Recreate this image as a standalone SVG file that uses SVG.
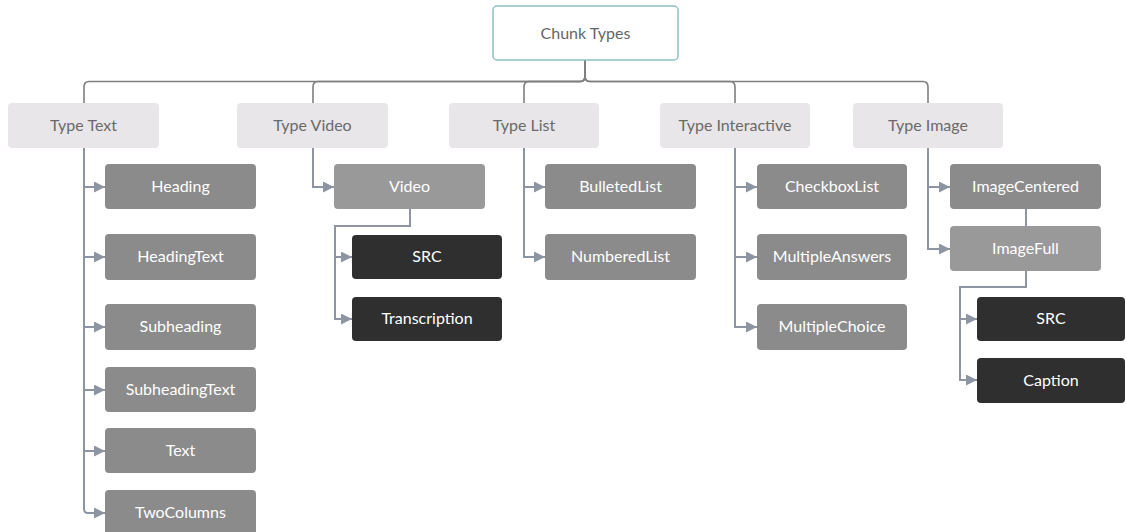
<svg xmlns="http://www.w3.org/2000/svg" width="1126" height="532" viewBox="0 0 1126 532">
  <defs>
    <marker id="arrow" viewBox="0 0 11 11" refX="11" refY="5.5" markerWidth="11" markerHeight="11" markerUnits="userSpaceOnUse" orient="auto">
      <path d="M0,0 L11,5.5 L0,11 z" fill="#8d95a3"/>
    </marker>
    <style>
      .bus { fill: none; stroke: #7f7f7f; stroke-width: 1.6; }
      .link { fill: none; stroke: #8d95a3; stroke-width: 2; }
      .arr { marker-end: url(#arrow); }
      .root rect { fill: #ffffff; stroke: #8fc0c5; stroke-width: 1.5; }
      .root text { fill: #666666; }
      .type rect { fill: #e8e6e8; }
      .type text { fill: #6a6a6a; }
      .leaf rect { fill: #8b8b8b; }
      .leaf.lite rect { fill: #999999; }
      .leaf text { fill: #ffffff; }
      .prop rect { fill: #2f2f2f; }
      .prop text { fill: #ffffff; }
      text { font-family: Lato, "Liberation Sans", sans-serif; font-size: 16px; text-anchor: middle; }
    </style>
  </defs>

  <!-- connectors -->
  <g id="connectors">
    <!-- root to the five type nodes -->
    <path class="bus" d="M585,60 V76 Q585,81.5 580,81.5 H89 Q84,81.5 84,87 V103"/>
    <path class="bus" d="M585,60 V76 Q585,81.5 580,81.5 H318 Q313,81.5 313,87 V103"/>
    <path class="bus" d="M585,60 V76 Q585,81.5 580,81.5 H529 Q524,81.5 524,87 V103"/>
    <path class="bus" d="M585,60 V76 Q585,81.5 590,81.5 H730 Q735,81.5 735,87 V103"/>
    <path class="bus" d="M585,60 V76 Q585,81.5 590,81.5 H923 Q928,81.5 928,87 V103"/>

    <!-- Type Text -->
    <path class="link arr" d="M84,148 V187 H105"/>
    <path class="link arr" d="M84,148 V257 H105"/>
    <path class="link arr" d="M84,148 V327 H105"/>
    <path class="link arr" d="M84,148 V390 H105"/>
    <path class="link arr" d="M84,148 V451 H105"/>
    <path class="link arr" d="M84,148 V509 Q84,513 88,513 H105"/>

    <!-- Type Video -->
    <path class="link arr" d="M313,148 V187 H334"/>
    <path class="link arr" d="M410,209 V226 H335 V257 H352"/>
    <path class="link arr" d="M410,209 V226 H335 V319 H352"/>

    <!-- Type List -->
    <path class="link arr" d="M524,148 V187 H545"/>
    <path class="link arr" d="M524,148 V257 H545"/>

    <!-- Type Interactive -->
    <path class="link arr" d="M735,148 V187 H757"/>
    <path class="link arr" d="M735,148 V257 H757"/>
    <path class="link arr" d="M735,148 V327 H757"/>

    <!-- Type Image -->
    <path class="link arr" d="M928,148 V187 H950"/>
    <path class="link arr" d="M928,148 V249 H950"/>
    <path class="link" d="M1026,209 V226"/>
    <path class="link arr" d="M1026,271 V287 H960 V319 H977"/>
    <path class="link arr" d="M1026,271 V287 H960 V380 H977"/>
  </g>

  <!-- root -->
  <g id="chunk-types" class="root">
    <rect x="493" y="6" width="185" height="54" rx="4"/>
    <text x="585.5" y="39">Chunk Types</text>
  </g>

  <!-- type nodes -->
  <g id="type-text" class="type"><rect x="8" y="103" width="151" height="45" rx="4"/><text x="83.5" y="131">Type Text</text></g>
  <g id="type-video" class="type"><rect x="237" y="103" width="151" height="45" rx="4"/><text x="312.5" y="131">Type Video</text></g>
  <g id="type-list" class="type"><rect x="449" y="103" width="150" height="45" rx="4"/><text x="524" y="131">Type List</text></g>
  <g id="type-interactive" class="type"><rect x="660" y="103" width="150" height="45" rx="4"/><text x="735" y="131">Type Interactive</text></g>
  <g id="type-image" class="type"><rect x="853" y="103" width="150" height="45" rx="4"/><text x="928" y="131">Type Image</text></g>

  <!-- text chunks -->
  <g id="heading" class="leaf"><rect x="105" y="164" width="151" height="45" rx="4"/><text x="180.5" y="192">Heading</text></g>
  <g id="heading-text" class="leaf"><rect x="105" y="234" width="151" height="46" rx="4"/><text x="180.5" y="262">HeadingText</text></g>
  <g id="subheading" class="leaf"><rect x="105" y="304" width="151" height="46" rx="4"/><text x="180.5" y="332">Subheading</text></g>
  <g id="subheading-text" class="leaf"><rect x="105" y="367" width="151" height="45" rx="4"/><text x="180.5" y="395">SubheadingText</text></g>
  <g id="text" class="leaf"><rect x="105" y="428" width="151" height="45" rx="4"/><text x="180.5" y="456">Text</text></g>
  <g id="two-columns" class="leaf"><rect x="105" y="490" width="151" height="46" rx="4"/><text x="180.5" y="518">TwoColumns</text></g>

  <!-- video chunks -->
  <g id="video" class="leaf lite"><rect x="334" y="164" width="151" height="45" rx="4"/><text x="409.5" y="192">Video</text></g>
  <g id="video-src" class="prop"><rect x="352" y="235" width="150" height="44" rx="4"/><text x="427" y="262">SRC</text></g>
  <g id="video-transcription" class="prop"><rect x="352" y="297" width="150" height="44" rx="4"/><text x="427" y="324">Transcription</text></g>

  <!-- list chunks -->
  <g id="bulleted-list" class="leaf"><rect x="545" y="164" width="151" height="45" rx="4"/><text x="620.5" y="192">BulletedList</text></g>
  <g id="numbered-list" class="leaf"><rect x="545" y="234" width="151" height="46" rx="4"/><text x="620.5" y="262">NumberedList</text></g>

  <!-- interactive chunks -->
  <g id="checkbox-list" class="leaf"><rect x="757" y="164" width="150" height="45" rx="4"/><text x="832" y="192">CheckboxList</text></g>
  <g id="multiple-answers" class="leaf"><rect x="757" y="234" width="150" height="46" rx="4"/><text x="832" y="262">MultipleAnswers</text></g>
  <g id="multiple-choice" class="leaf"><rect x="757" y="304" width="150" height="46" rx="4"/><text x="832" y="332">MultipleChoice</text></g>

  <!-- image chunks -->
  <g id="image-centered" class="leaf"><rect x="950" y="164" width="151" height="45" rx="4"/><text x="1025.5" y="192">ImageCentered</text></g>
  <g id="image-full" class="leaf lite"><rect x="950" y="226" width="151" height="45" rx="4"/><text x="1025.5" y="254">ImageFull</text></g>
  <g id="image-src" class="prop"><rect x="977" y="297" width="148" height="44" rx="4"/><text x="1051" y="324">SRC</text></g>
  <g id="image-caption" class="prop"><rect x="977" y="358" width="148" height="45" rx="4"/><text x="1051" y="386">Caption</text></g>
</svg>
